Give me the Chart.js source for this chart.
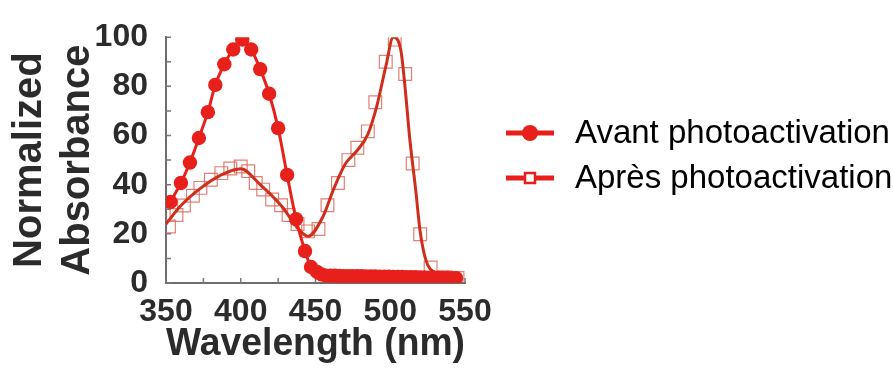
<!DOCTYPE html>
<html>
<head>
<meta charset="utf-8">
<script src="https://cdn.jsdelivr.net/npm/chart.js@4/dist/chart.umd.min.js"></script>
<style>
html, body { margin: 0; padding: 0; background: #fff; }
</style>
</head>
<body>
<canvas id="myChart" width="893" height="376"></canvas>
<script>
// Avant photoactivation (filled circles)
const avantWl  = [353, 360, 366, 372, 378, 383, 389, 395, 401, 407, 413, 419, 425, 431, 437, 443, 447,
                  451, 454, 457, 460, 463, 466, 469, 472, 475, 478, 481, 484, 487, 490, 493, 496, 499,
                  502, 505, 508, 511, 514, 517, 520, 523, 526, 529, 532, 535, 538, 541, 544];
const avantAbs = [33, 40.7, 49, 59, 69.5, 80.6, 89, 95, 99, 95, 87, 77, 63, 44, 26, 13, 6.5,
                  4.5, 3.5, 3, 3, 3, 2.9, 2.8, 2.8, 2.8, 2.8, 2.8, 2.7, 2.7, 2.7, 2.6, 2.6, 2.6,
                  2.5, 2.5, 2.5, 2.4, 2.4, 2.4, 2.3, 2.3, 2.2, 2.2, 2.2, 2.1, 2.1, 2.0, 2.0];

// Apres photoactivation (open squares + smooth fitted line)
const apresWl  = [352, 357, 362, 368, 373, 380, 387, 393, 400, 405, 410, 415, 421, 427, 432, 438, 445,
                  452, 458, 465, 472, 478, 485, 490, 497, 503, 510, 515, 520, 527, 537, 545];
const apresAbs = [23, 27.7, 31.5, 35.5, 38.7, 42, 44.7, 46.6, 47.4, 45.5, 40.7, 38, 34, 31.6, 27.7, 24, 21,
                  22, 31.6, 40.7, 50, 55, 61.7, 73.5, 90, 99, 85, 48.6, 19.8, 6.3, 2.4, 2];

const fitWl  = [350, 360, 373, 387, 400, 413, 427, 440, 445, 455, 462, 470, 478, 485, 491, 497, 502,
                507, 510, 513, 517, 520, 524, 531, 540, 548];
const fitAbs = [24, 31.5, 38.5, 44, 46.5, 40, 31.5, 21, 19, 27, 38, 48.5, 54, 60.5, 72, 88, 100,
                95, 79, 59, 38, 21, 9, 4, 2.5, 2];

const LABELS = ['Avant photoactivation', 'Après photoactivation'];
const X_TICKS = [350, 400, 450, 500, 550];
const Y_TICKS = [0, 20, 40, 60, 80, 100];

const RED = '#e8201c';
const FONT = '"Liberation Sans", Arial, sans-serif';

const toXY = (xs, ys) => xs.map((x, i) => ({x: x, y: ys[i]}));

// short ticks drawn inside the plot, like the original figure
const innerTicks = {
  id: 'innerTicks',
  beforeDatasetsDraw(chart) {
    const {ctx, chartArea, scales} = chart;
    ctx.save();
    ctx.strokeStyle = '#777';
    ctx.lineWidth = 1.5;
    ctx.beginPath();
    scales.y.ticks.forEach(t => {
      const py = scales.y.getPixelForValue(t.value);
      ctx.moveTo(chartArea.left, py);
      ctx.lineTo(chartArea.left + 5, py);
    });
    scales.x.ticks.forEach(t => {
      const px = scales.x.getPixelForValue(t.value);
      ctx.moveTo(px, chartArea.bottom);
      ctx.lineTo(px, chartArea.bottom - 5);
    });
    ctx.stroke();
    ctx.restore();
  }
};

// legend on the right: line with marker in the middle, then the text
const sideLegend = {
  id: 'sideLegend',
  afterDraw(chart) {
    const ctx = chart.ctx;
    const rows = [133, 178];
    ctx.save();
    rows.forEach((y, i) => {
      ctx.strokeStyle = RED;
      ctx.lineWidth = 5;
      ctx.beginPath();
      ctx.moveTo(506, y);
      ctx.lineTo(554, y);
      ctx.stroke();
      if (i === 0) {
        ctx.fillStyle = RED;
        ctx.beginPath();
        ctx.arc(530, y, 8, 0, Math.PI * 2);
        ctx.fill();
      } else {
        ctx.fillStyle = '#fff';
        ctx.fillRect(525, y - 5, 10, 10);
        ctx.lineWidth = 2.5;
        ctx.strokeRect(525, y - 5, 10, 10);
      }
      ctx.fillStyle = '#000';
      ctx.font = '33px ' + FONT;
      ctx.textBaseline = 'middle';
      ctx.fillText(LABELS[i], 575, y + 1);
    });
    ctx.restore();
  }
};

new Chart(document.getElementById('myChart'), {
  type: 'line',
  data: {
    datasets: [
      {
        label: LABELS[0],
        data: toXY(avantWl, avantAbs),
        borderColor: RED,
        backgroundColor: RED,
        borderWidth: 3,
        pointRadius: 7.2,
        pointBorderWidth: 0,
        tension: 0.3,
        order: 0
      },
      {
        label: LABELS[1],
        data: toXY(apresWl, apresAbs),
        showLine: false,
        pointStyle: 'rect',
        pointRadius: 9,
        pointBorderWidth: 1.2,
        pointBorderColor: 'rgba(222, 105, 90, 0.85)',
        pointBackgroundColor: 'rgba(255, 255, 255, 0)',
        order: 2
      },
      {
        label: 'fit',
        data: toXY(fitWl, fitAbs),
        borderColor: '#cf2e1c',
        borderWidth: 3,
        pointRadius: 0,
        cubicInterpolationMode: 'monotone',
        order: 1
      }
    ]
  },
  options: {
    responsive: false,
    animation: false,
    layout: { padding: { left: 0, right: 428, top: 30, bottom: 0 } },
    plugins: {
      legend: { display: false },
      tooltip: { enabled: false }
    },
    scales: {
      x: {
        type: 'linear',
        min: 350,
        max: 550,
        afterFit: s => { s.height = 93; },
        grid: { display: false, drawTicks: false },
        border: { display: true, color: '#6e6e6e', width: 2 },
        ticks: {
          stepSize: 25,
          autoSkip: false,
          maxRotation: 0,
          padding: 10,
          color: '#2b2b2b',
          font: { family: FONT, size: 32, weight: 'bold' },
          callback: v => X_TICKS.includes(v) ? String(v) : ''
        },
        title: {
          display: true,
          text: 'Wavelength (nm)',
          color: '#2b2b2b',
          font: { family: FONT, size: 38, weight: 'bold' },
          padding: { top: 0, bottom: 9 }
        }
      },
      y: {
        min: 0,
        max: 100,
        afterFit: s => { s.width = 166; },
        grid: { display: false, drawTicks: false },
        border: { display: true, color: '#6e6e6e', width: 2 },
        ticks: {
          stepSize: 10,
          autoSkip: false,
          padding: 18,
          color: '#2b2b2b',
          font: { family: FONT, size: 32, weight: 'bold' },
          callback: v => Y_TICKS.includes(v) ? String(v) : ''
        },
        title: {
          display: true,
          text: ['Normalized', 'Absorbance'],
          color: '#2b2b2b',
          font: { family: FONT, size: 40, weight: 'bold' },
          padding: { top: 6, bottom: 0 }
        }
      }
    }
  },
  plugins: [innerTicks, sideLegend]
});
</script>
</body>
</html>
